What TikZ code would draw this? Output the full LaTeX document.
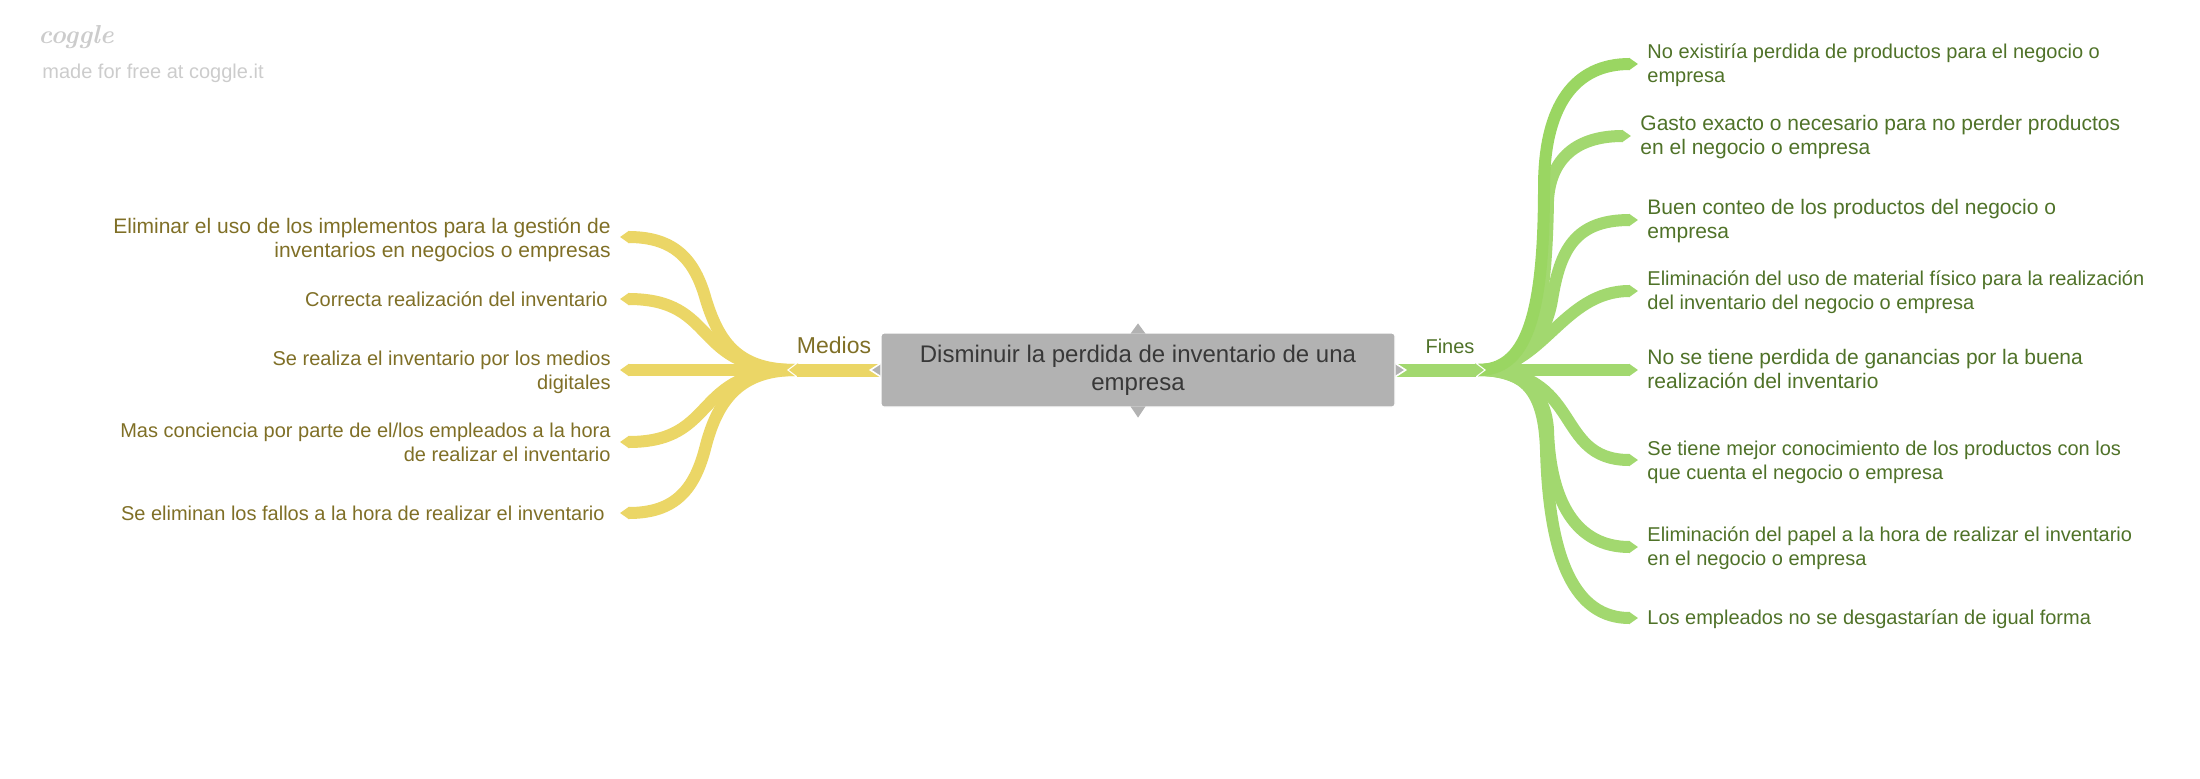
\documentclass[tikz,border=0pt]{standalone}
\usepackage{fontspec}
\setmainfont{Liberation Sans}
\newfontfamily\logofont{Latin Modern Roman}
\usetikzlibrary{arrows.meta}
\definecolor{rootgrey}{HTML}{B2B2B2}
\definecolor{yellowlink}{HTML}{EBD666}
\definecolor{yellowtext}{HTML}{7F6F26}
\definecolor{greenlink}{HTML}{A2D86F}
\definecolor{greentop}{HTML}{9AD662}
\definecolor{greentext}{HTML}{4F7228}
\definecolor{logogrey}{HTML}{CCCCCC}
\begin{document}
\begin{tikzpicture}[x=0.5pt,y=-0.5pt]

\tikzset{root/.style = {fill=rootgrey,draw=white,line width=0.6pt,rounded corners=1.5pt,minimum width=257pt,minimum height=37pt,inner sep=0pt,align=center,text=black!78,font=\fontsize{12}{14}\selectfont}}
\tikzset{rootpoint/.style = {fill=rootgrey,draw=white,line width=0.8pt}}
\tikzset{medios/.style = {anchor=east,inner sep=0pt,align=right,text=yellowtext,font=\fontsize{10}{12}\selectfont}}
\tikzset{fines/.style = {anchor=west,inner sep=0pt,align=left,text=greentext,font=\fontsize{10}{12}\selectfont}}
\tikzset{large/.style = {font=\fontsize{10.5}{12}\selectfont}}
\tikzset{stem/.style = {line width=6.5pt,-{Triangle[length=4.5pt,width=6.5pt]}}}
\tikzset{branch/.style = {line width=6pt,-{Triangle[length=4.5pt,width=6pt]}}}

\path[use as bounding box] (0,0) rectangle (2200,778);

%logo
\node[inner sep=0pt,text=logogrey,font=\fontsize{13}{16}\logofont\bfseries\itshape] (logo) at (76,37) {coggle};
\node[inner sep=0pt,anchor=west,text=logogrey,font=\fontsize{10}{12}\selectfont] (made) at (42,73) {made for free at coggle.it};

%medios text
\node[medios,large] (m1) at (611,240) {Eliminar el uso de los implementos para la gestión de\\inventarios en negocios o empresas};
\node[medios] (m2) at (608,299) {Correcta realización del inventario};
\node[medios] (m3) at (611,372) {Se realiza el inventario por los medios\\digitales};
\node[medios] (m4) at (611,442) {Mas conciencia por parte de el/los empleados a la hora\\de realizar el inventario};
\node[medios] (m5) at (605,513) {Se eliminan los fallos a la hora de realizar el inventario};

%fines text
\node[fines] (f1) at (1647,65) {No existiría perdida de productos para el negocio o\\empresa};
\node[fines,large] (f2) at (1640,137) {Gasto exacto o necesario para no perder productos\\en el negocio o empresa};
\node[fines,large] (f3) at (1647,221) {Buen conteo de los productos del negocio o\\empresa};
\node[fines] (f4) at (1647,292) {Eliminación del uso de material físico para la realización\\del inventario del negocio o empresa};
\node[fines,large] (f5) at (1647,369) {No se tiene perdida de ganancias por la buena\\realización del inventario};
\node[fines] (f6) at (1647,462) {Se tiene mejor conocimiento de los productos con los\\que cuenta el negocio o empresa};
\node[fines] (f7) at (1647,548) {Eliminación del papel a la hora de realizar el inventario\\en el negocio o empresa};
\node[fines] (f8) at (1647,619) {Los empleados no se desgastarían de igual forma};

%branch ends
\coordinate (hubm) at (796,370);
\coordinate (stemm) at (789,370);
\coordinate (e1) at (620,237);
\coordinate (e2) at (620,299);
\coordinate (e3) at (620,370);
\coordinate (e4) at (620,442);
\coordinate (e5) at (620,513);
\coordinate (hubf) at (1478,370);
\coordinate (stemf) at (1484,370);
\coordinate (g1) at (1638,64);
\coordinate (g2) at (1631,136);
\coordinate (g3) at (1638,220);
\coordinate (g4) at (1638,291);
\coordinate (g5) at (1638,370);
\coordinate (g6) at (1638,460);
\coordinate (g7) at (1638,547);
\coordinate (g8) at (1638,618);

\draw[branch,yellowlink] (hubm) .. controls (740,370) and (720,345) .. (706,300) .. controls (695,260) and (675,237) .. (e1);
\draw[branch,yellowlink] (hubm) .. controls (690,370) and (720,299) .. (e2);
\draw[branch,yellowlink] (hubm) -- (e3);
\draw[branch,yellowlink] (hubm) .. controls (690,370) and (720,442) .. (e4);
\draw[branch,yellowlink] (hubm) .. controls (740,370) and (718,400) .. (706,445) .. controls (695,490) and (675,513) .. (e5);

\draw[branch,greenlink] (hubf) .. controls (1525,370) and (1544,390) .. (1546,450) .. controls (1549,560) and (1575,618) .. (g8);
\draw[branch,greenlink] (hubf) .. controls (1525,370) and (1546,395) .. (1548,430) .. controls (1550,500) and (1575,547) .. (g7);
\draw[branch,greenlink] (hubf) .. controls (1585,370) and (1552,460) .. (g6);
\draw[branch,greenlink] (hubf) -- (g5);
\draw[branch,greenlink] (hubf) .. controls (1543,370) and (1562,291) .. (g4);
\draw[branch,greenlink] (hubf) .. controls (1520,370) and (1545,340) .. (1552,300) .. controls (1560,250) and (1575,220) .. (g3);
\draw[branch,greenlink] (hubf) .. controls (1530,370) and (1546,330) .. (1548,200) .. controls (1550,165) and (1570,136) .. (g2);
\draw[branch,greentop] (hubf) .. controls (1525,370) and (1544,320) .. (1544,187) .. controls (1544,105) and (1575,64) .. (g1);

%root and stems
\node[root] (root) at (1138,370) {Disminuir la perdida de inventario de una\\empresa};
\draw[stem,white,shorten >=-1pt] (root.west) -- (stemm);
\draw[stem,yellowlink] (root.west) -- (stemm);
\draw[stem,white,shorten >=-1pt] (root.east) -- (stemf);
\draw[stem,greenlink] (root.east) -- (stemf);
\path[rootpoint] ([yshift=-3.25pt]root.west) -- ([xshift=-5pt]root.west) -- ([yshift=3.25pt]root.west);
\path[rootpoint] ([yshift=-3.25pt]root.east) -- ([xshift=5pt]root.east) -- ([yshift=3.25pt]root.east);
\fill[rootgrey] ([xshift=-3.75pt,yshift=-0.6pt]root.north) -- ([yshift=4.5pt]root.north) -- ([xshift=3.75pt,yshift=-0.6pt]root.north) -- cycle;
\fill[rootgrey] ([xshift=-3.75pt,yshift=0.6pt]root.south) -- ([yshift=-5pt]root.south) -- ([xshift=3.75pt,yshift=0.6pt]root.south) -- cycle;

\node[inner sep=0pt,text=yellowtext,font=\fontsize{11.5}{14}\selectfont] (mediostext) at (834,345) {Medios};
\node[inner sep=0pt,text=greentext,font=\fontsize{10}{14}\selectfont] (finestext) at (1450,346) {Fines};

\end{tikzpicture}
\end{document}
